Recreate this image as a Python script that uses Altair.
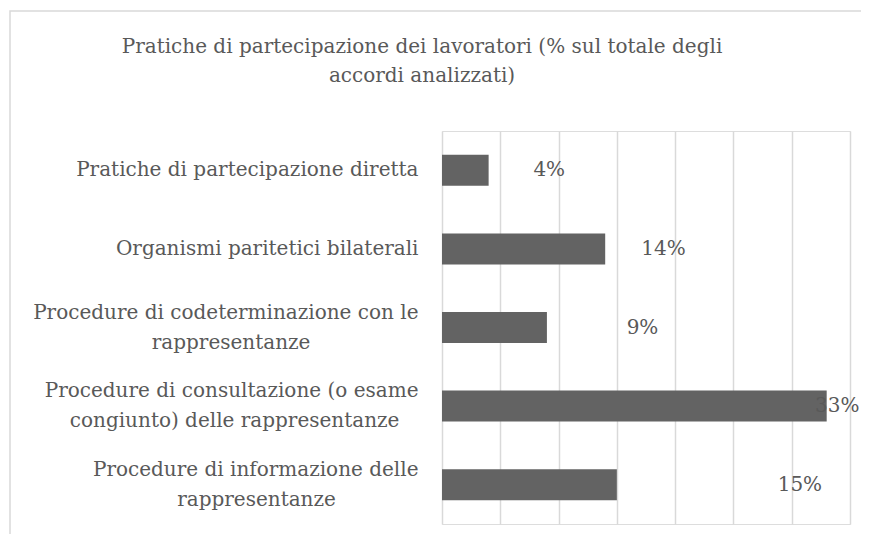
import altair as alt
import pandas as pd

# ---- data ----
categories = [
    ["Pratiche di partecipazione diretta"],
    ["Organismi paritetici bilaterali"],
    ["Procedure di codeterminazione con le", "rappresentanze"],
    ["Procedure di consultazione (o esame", "congiunto) delle rappresentanze"],
    ["Procedure di informazione delle", "rappresentanze"],
]
values = [4, 14, 9, 33, 15]
value_labels = ["4%", "14%", "9%", "33%", "15%"]
# where the data labels sit along the % axis in the original
label_x = [9.2, 19.0, 17.2, 33.9, 30.7]

title_lines = [
    "Pratiche di partecipazione dei lavoratori (% sul totale degli",
    "accordi analizzati)",
]

FONT = "DejaVu Serif"
FS = 20
TXT = "#595959"
NBSP = "\u00a0"
ZWSP = "\u200b"


def block(lines):
    # visually centre the second line under the first (right-aligned labels)
    if len(lines) == 1:
        return lines[0]
    l1, l2 = lines
    pad = max(0, round((len(l1) - len(l2)) * 0.79))
    return l1 + "|" + l2 + NBSP * pad + ZWSP


cat_keys = [block(c) for c in categories]

df = pd.DataFrame({
    "cat": cat_keys,
    "val": values,
    "lab": value_labels,
    "lx": label_x,
})

y_enc = alt.Y(
    "cat:N",
    sort=cat_keys,
    title=None,
    scale=alt.Scale(paddingInner=0.606, paddingOuter=0.303),
    axis=alt.Axis(
        labelExpr="split(datum.label, '|')",
        labelAlign="right",
        labelBaseline="middle",
        labelPadding=24,
        labelFont=FONT,
        labelFontSize=FS,
        labelColor=TXT,
        labelLimit=0,
        labelLineHeight=30,
        labelOffset={
            "condition": {"test": "indexof(datum.value, '|') >= 0", "value": -15},
            "value": 0,
        },
        ticks=False,
        domain=False,
        grid=False,
    ),
)

x_scale = alt.Scale(domain=[0, 35], nice=False, zero=True)

bars = alt.Chart(df).mark_bar(color="#636363").encode(
    x=alt.X(
        "val:Q",
        scale=x_scale,
        title=None,
        axis=alt.Axis(
            values=[0, 5, 10, 15, 20, 25, 30, 35],
            labels=False,
            ticks=False,
            domain=False,
            grid=True,
            gridColor="#d9d9d9",
            gridWidth=1.5,
        ),
    ),
    y=y_enc,
)

texts = alt.Chart(df).mark_text(
    font=FONT, fontSize=FS, color=TXT, align="center", baseline="middle"
).encode(
    x=alt.X("lx:Q", scale=x_scale),
    y=alt.Y("cat:N", sort=cat_keys),
    text="lab:N",
)

title_df = pd.DataFrame({"t": [0]})
title_mark = alt.Chart(title_df).mark_text(
    font=FONT, fontSize=FS, color=TXT, align="center", baseline="top",
    lineHeight=29,
).encode(
    x=alt.value(-20),
    y=alt.value(-94),
    text=alt.value(title_lines),
)

border = alt.Chart(title_df).mark_rect(
    fill=None, stroke="#d9d9d9", strokeWidth=1.5
).encode(
    x=alt.value(-432),
    x2=alt.value(440),
    y=alt.value(-120),
    y2=alt.value(460),
)

chart = (
    alt.layer(border, bars, texts, title_mark)
    .properties(
        width=408,
        height=393,
        autosize=alt.AutoSizeParams(type="none"),
        padding={"left": 434, "top": 123, "right": 11, "bottom": 10},
    )
    .configure_view(stroke=None)
    .configure(background="white")
)

chart.save("out.html", embed_options={"renderer": "svg", "actions": False})
